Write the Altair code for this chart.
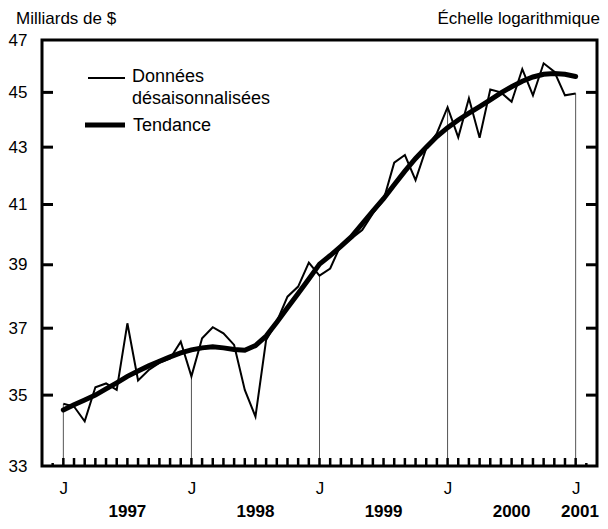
import altair as alt
import pandas as pd

# Monthly index: 0 = January 1997 ... 48 = January 2001
months = list(range(49))

raw_values = [
    34.75, 34.67, 34.25, 35.23, 35.34, 35.15, 37.15, 35.43, 35.74, 35.95, 36.08, 36.59,
    35.55, 36.69, 37.03, 36.84, 36.49, 35.15, 34.38, 36.64, 37.20, 37.98, 38.30, 39.07,
    38.65, 38.88, 39.65, 39.86, 40.14, 40.70, 41.15, 42.45, 42.72, 41.84, 42.96, 43.50,
    44.45, 43.35, 44.78, 43.34, 45.11, 45.00, 44.65, 45.88, 44.89, 46.10, 45.78, 44.89,
    44.96,
]

trend_values = [
    34.57, 34.72, 34.86, 35.00, 35.18, 35.36, 35.55, 35.71, 35.86, 36.00, 36.13, 36.25,
    36.34, 36.40, 36.43, 36.40, 36.35, 36.33, 36.47, 36.76, 37.18, 37.63, 38.08, 38.54,
    39.02, 39.30, 39.60, 39.92, 40.35, 40.78, 41.20, 41.68, 42.15, 42.60, 43.00, 43.38,
    43.70, 43.98, 44.23, 44.47, 44.72, 44.98, 45.21, 45.42, 45.58, 45.68, 45.71, 45.68,
    45.60,
]

y_ticks = [33, 35, 37, 39, 41, 43, 45, 47]
inner_y_ticks = [35, 37, 39, 41, 43, 45]
jan_positions = [0, 12, 24, 36, 48]
minor_positions = [-1, 49]
year_labels = ["1997", "1998", "1999", "2000", "2001"]
year_positions = [6, 18, 30, 42, 48.4]

W, H = 555, 426
FONT = "Liberation Sans"

df = pd.DataFrame({"m": months, "raw": raw_values, "trend": trend_values})
jan_df = df[df["m"].isin(jan_positions)]
tick_df = pd.DataFrame({"m": months})
minor_df = pd.DataFrame({"m": minor_positions})
ytick_df = pd.DataFrame({"v": inner_y_ticks})
year_df = pd.DataFrame({"m": year_positions, "label": year_labels})
one = pd.DataFrame({"k": [0]})

xscale = alt.Scale(domain=[-2, 50], nice=False, zero=False)
yscale = alt.Scale(type="log", domain=[33, 47], nice=False, zero=False)

x_axis = alt.Axis(values=jan_positions, labelExpr="'J'", tickSize=0, domain=False,
                  grid=False, title=None, labelPadding=14, labelFontSize=17,
                  labelFont=FONT, labelColor="black")
y_axis = alt.Axis(values=y_ticks, tickSize=0, domain=False, grid=False, title=None,
                  labelPadding=15, labelFontSize=17, labelFont=FONT, labelColor="black")

base = alt.Chart(df)

jan_rules = alt.Chart(jan_df).mark_rule(color="#555555", strokeWidth=1).encode(
    x=alt.X("m:Q", scale=xscale, axis=x_axis),
    y=alt.Y("raw:Q", scale=yscale, axis=y_axis),
    y2=alt.value(H),
)

month_ticks = alt.Chart(tick_df).mark_rule(color="black", strokeWidth=2.5).encode(
    x=alt.X("m:Q", scale=xscale), y=alt.value(H - 8), y2=alt.value(H)
)
minor_ticks = alt.Chart(minor_df).mark_rule(color="black", strokeWidth=2.5).encode(
    x=alt.X("m:Q", scale=xscale), y=alt.value(H - 3), y2=alt.value(H)
)

left_ticks = alt.Chart(ytick_df).mark_rule(color="black", strokeWidth=3).encode(
    y=alt.Y("v:Q", scale=yscale), x=alt.value(0), x2=alt.value(11)
)
right_ticks = alt.Chart(ytick_df).mark_rule(color="black", strokeWidth=3).encode(
    y=alt.Y("v:Q", scale=yscale), x=alt.value(W - 11), x2=alt.value(W)
)

raw_line = base.mark_line(color="black", strokeWidth=2).encode(
    x=alt.X("m:Q", scale=xscale), y=alt.Y("raw:Q", scale=yscale)
)
trend_line = base.mark_line(color="black", strokeWidth=5, strokeCap="round").encode(
    x=alt.X("m:Q", scale=xscale), y=alt.Y("trend:Q", scale=yscale)
)

years = alt.Chart(year_df).mark_text(fontSize=17, fontWeight="bold", font=FONT,
                                     baseline="alphabetic", align="center", color="black").encode(
    x=alt.X("m:Q", scale=xscale), y=alt.value(H + 51), text="label:N"
)

# Legend (manual)
leg_raw = alt.Chart(one).mark_rule(color="black", strokeWidth=2).encode(
    x=alt.value(46), x2=alt.value(83), y=alt.value(38)
)
leg_trend = alt.Chart(one).mark_rule(color="black", strokeWidth=5).encode(
    x=alt.value(43), x2=alt.value(83), y=alt.value(85)
)
text_style = dict(font=FONT, fontSize=18, color="black", baseline="middle")
leg_t1 = alt.Chart(one).mark_text(align="left", text="Données", **text_style).encode(
    x=alt.value(90), y=alt.value(37))
leg_t2 = alt.Chart(one).mark_text(align="left", text="désaisonnalisées", **text_style).encode(
    x=alt.value(90), y=alt.value(59))
leg_t3 = alt.Chart(one).mark_text(align="left", text="Tendance", **text_style).encode(
    x=alt.value(91), y=alt.value(86))

title_style = dict(font=FONT, fontSize=17, color="black", baseline="middle")
title_left = alt.Chart(one).mark_text(align="left", text="Milliards de $", **title_style).encode(
    x=alt.value(-26), y=alt.value(-21))
title_right = alt.Chart(one).mark_text(align="right", text="Échelle logarithmique", **title_style).encode(
    x=alt.value(W + 3), y=alt.value(-21))

chart = alt.layer(
    jan_rules, month_ticks, minor_ticks, left_ticks, right_ticks,
    raw_line, trend_line, years,
    leg_raw, leg_trend, leg_t1, leg_t2, leg_t3, title_left, title_right,
).properties(
    width=W, height=H,
    padding={"left": 34, "top": 32, "right": 3, "bottom": 55},
    autosize=alt.AutoSizeParams(type="none"),
    background="white",
).configure_view(stroke="black", strokeWidth=3)

chart.save("out.html", embed_options={"renderer": "svg", "actions": False})
